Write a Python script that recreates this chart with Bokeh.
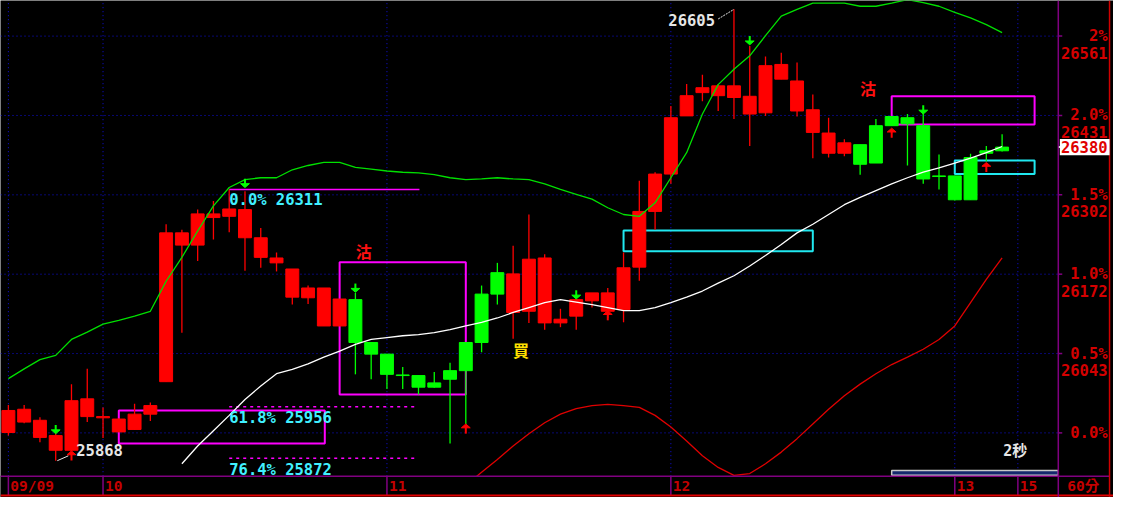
from bokeh.plotting import figure
from bokeh.models import Range1d
from bokeh.embed import file_html
from bokeh.resources import INLINE
from bokeh.core.properties import value

# ---------------- data ----------------
opens  = [25914, 25931, 25934, 25909, 25885, 25940, 25938, 25915, 25919, 25944,
          25997, 26240, 26220, 26265, 26267, 26278, 26232, 26199, 26181, 26134,
          26150, 26088, 26131, 26061, 26042, 26008, 26007, 25988, 26001, 26015,
          26061, 26140, 26173, 26112, 26199, 26093, 26104, 26129, 26142, 26115,
          26184, 26275, 26336, 26431, 26469, 26480, 26461, 26463, 26436, 26491,
          26488, 26441, 26403, 26370, 26384, 26354, 26415, 26428, 26415, 26333,
          26333, 26294, 26370, 26374]
highs  = [25959, 25959, 25939, 25913, 25993, 26018, 25955, 25937, 25961, 25963,
          26254, 26245, 26278, 26292, 26311, 26308, 26248, 26208, 26181, 26154,
          26150, 26132, 26142, 26061, 26042, 26021, 26007, 26013, 26028, 26061,
          26154, 26191, 26219, 26270, 26205, 26116, 26132, 26142, 26150, 26208,
          26325, 26339, 26447, 26483, 26498, 26483, 26605, 26545, 26528, 26534,
          26518, 26466, 26428, 26393, 26384, 26426, 26430, 26434, 26437, 26368,
          26333, 26369, 26382, 26401]
lows   = [25909, 25929, 25898, 25868, 25884, 25931, 25905, 25915, 25918, 25933,
          25997, 26077, 26194, 26229, 26241, 26178, 26183, 26177, 26123, 26124,
          26088, 26088, 26009, 26001, 25985, 25985, 25976, 25987, 25896, 25928,
          26045, 26123, 26067, 26093, 26082, 26086, 26082, 26118, 26101, 26094,
          26162, 26245, 26320, 26431, 26455, 26439, 26426, 26382, 26431, 26491,
          26430, 26362, 26363, 26365, 26335, 26354, 26415, 26350, 26320, 26311,
          26293, 26294, 26357, 26373]
closes = [25950, 25952, 25906, 25885, 25966, 25969, 25940, 25936, 25944, 25958,
          26240, 26220, 26271, 26271, 26279, 26232, 26200, 26191, 26135, 26150,
          26088, 26132, 26061, 26042, 26009, 26007, 25988, 25995, 26015, 26061,
          26140, 26175, 26110, 26197, 26093, 26099, 26131, 26142, 26112, 26183,
          26275, 26336, 26428, 26464, 26477, 26464, 26480, 26434, 26513, 26515,
          26439, 26404, 26370, 26387, 26352, 26415, 26430, 26418, 26328, 26332,
          26294, 26363, 26374, 26380]
# signal state per bar: B = buy (red bars), S = sell (green bars)
signal = "B" * 22 + "S" * 10 + "B" * 22 + "S" * 10

upper_band = [26002, 26018, 26033, 26040, 26066, 26078, 26091, 26097, 26104, 26112,
              26161, 26200, 26243, 26284, 26314, 26327, 26330, 26330, 26343, 26350,
              26355, 26355, 26347, 26344, 26341, 26339, 26338, 26335, 26330, 26327,
              26328, 26330, 26328, 26327, 26320, 26311, 26303, 26295, 26281, 26270,
              26267, 26289, 26330, 26371, 26434, 26482, 26507, 26529, 26562, 26594,
              26605, 26615, 26615, 26615, 26610, 26610, 26615, 26621, 26616, 26610,
              26600, 26591, 26580, 26567]
mid_start = 11
mid_band = [25863, 25892, 25917, 25942, 25968, 25990, 26010, 26017, 26026, 26037,
            26047, 26058, 26066, 26069, 26072, 26074, 26077, 26082, 26088, 26094,
            26101, 26110, 26118, 26126, 26131, 26127, 26123, 26118, 26113, 26113,
            26118, 26126, 26135, 26145, 26158, 26170, 26186, 26203, 26221, 26240,
            26254, 26270, 26286, 26298, 26309, 26320, 26330, 26339, 26346, 26354,
            26362, 26371, 26381]
low_start = 29
lower_band = [25828, 25849, 25870, 25892, 25912, 25930, 25944, 25953, 25958, 25960,
              25958, 25955, 25942, 25923, 25900, 25876, 25857, 25844, 25847, 25863,
              25882, 25904, 25928, 25952, 25974, 25993, 26010, 26025, 26037, 26050,
              26066, 26088, 26126, 26164, 26199]

down_arrow_idx = [3, 15, 22, 36, 47, 58]
down_arrow_tip = [25912, 26314, 26143, 26132, 26547, 26434]
up_arrow_idx = [4, 29, 38, 56, 62]
up_arrow_tip = [25884, 25928, 26113, 26411, 26355]

day_start_idx = [0, 6, 24, 42, 60, 64]
day_labels = ["09/09", "10", "11", "12", "13", "15"]

base_price = 25913.4
pct_levels = [0.0, 0.5, 1.0, 1.5, 2.0, 2.5]
pct_labels = ["0.0%", "0.5%", "1.0%", "1.5%", "2.0%", "2%"]
price_labels = ["", "26043", "26172", "26302", "26431", "26561"]
last_price = 26380

fib_labels = ["0.0% 26311", "61.8% 25956", "76.4% 25872"]
fib_values = [26311, 25956, 25872]
fib_start, fib_end = 14, [26.06, 25.75, 25.75]

high_idx, high_val = 46, 26605
low_idx, low_val = 3, 25868

# boxes: left idx, right idx, top price, bottom price
mag_left, mag_right = [21, 7, 56], [29, 20.06, 65.06]
mag_top, mag_bottom = [26192, 25950, 26463], [25976, 25896, 26417]
cyan_left, cyan_right = [39, 60], [51, 65.06]
cyan_top, cyan_bottom = [26244, 26358], [26210, 26336]

sell_marks_idx, sell_marks_price = [22.53, 54.5], [26210, 26476]
buy_marks_idx, buy_marks_price = [32.5], [26049]

# ---------------- layout helpers ----------------
PY = 1.582          # price per reference pixel
PX = 1 / 16         # bar index per reference pixel
X0, X1 = -0.5, 70.0625
Y0, Y1 = 25807.9, 26619.4
AXIS_X = (1073 - 8) * PX
EDGE_X = (1125 - 8) * PX
LABEL_RX = (1123 - 8) * PX
STRIP_TOP = base_price - (491 - 446.3) * PY
BOTTOM_LINE = base_price - (511 - 446.3) * PY
DATE_Y = base_price - (501.5 - 446.3) * PY

MONO = value("DejaVu Sans Mono, Noto Sans CJK TC")
CJK = value("Noto Sans CJK TC")

idx = list(range(len(closes)))
colors = ["#ff0000" if s == "B" else "#00ff00" for s in signal]

p = figure(width=1113, height=497, x_range=Range1d(X0, X1), y_range=Range1d(Y0, Y1),
           output_backend="svg", toolbar_location=None, x_axis_type=None, y_axis_type=None,
           min_border=0, background_fill_color="black", border_fill_color="black",
           outline_line_color=None)

# grid
grid_prices = [base_price * (1 + v / 100) for v in pct_levels]
p.segment(x0=X0, y0=grid_prices, x1=AXIS_X, y1=grid_prices,
          line_color="#1010e0", line_dash="1 3", line_width=1)
p.segment(x0=day_start_idx, y0=STRIP_TOP, x1=day_start_idx, y1=Y1,
          line_color="#1010e0", line_dash="1 3", line_width=1)

# boxes
p.quad(left=mag_left, right=mag_right, top=mag_top, bottom=mag_bottom,
       fill_alpha=0, line_color="#ff00ff", line_width=2)
p.quad(left=cyan_left, right=cyan_right, top=cyan_top, bottom=cyan_bottom,
       fill_alpha=0, line_color="#20e8f0", line_width=2)

# fibonacci lines
p.segment(x0=fib_start, y0=fib_values[0], x1=fib_end[0], y1=fib_values[0],
          line_color="#ff00ff", line_width=1.5)
p.segment(x0=fib_start, y0=fib_values[1:], x1=fib_end[1:], y1=fib_values[1:],
          line_color="#ff00ff", line_width=1.5, line_dash="3 4")

# candles
p.segment(x0=idx, y0=highs, x1=idx, y1=lows, line_color=colors, line_width=1.3)
p.vbar(x=idx, width=0.82,
       top=[max(o, c) for o, c in zip(opens, closes)],
       bottom=[min(o, c) for o, c in zip(opens, closes)],
       fill_color=colors, line_color=colors, line_width=1)

# bands
p.line(x=idx, y=upper_band, line_color="#00e000", line_width=1.3)
p.line(x=list(range(mid_start, mid_start + len(mid_band))), y=mid_band,
       line_color="#ffffff", line_width=1.3)
p.line(x=list(range(low_start, low_start + len(lower_band))), y=lower_band,
       line_color="#e00000", line_width=1.3)

# arrows
hw = 4.5 * PX
p.patches(xs=[[i - hw, i + hw, i] for i in down_arrow_idx],
          ys=[[t + 4 * PY, t + 4 * PY, t] for t in down_arrow_tip],
          fill_color="#00ff00", line_color="#00ff00")
p.segment(x0=down_arrow_idx, y0=[t + 3 * PY for t in down_arrow_tip],
          x1=down_arrow_idx, y1=[t + 9 * PY for t in down_arrow_tip],
          line_color="#00ff00", line_width=2)
p.patches(xs=[[i - hw, i + hw, i] for i in up_arrow_idx],
          ys=[[t - 4 * PY, t - 4 * PY, t] for t in up_arrow_tip],
          fill_color="#ff0000", line_color="#ff0000")
p.segment(x0=up_arrow_idx, y0=[t - 3 * PY for t in up_arrow_tip],
          x1=up_arrow_idx, y1=[t - 10 * PY for t in up_arrow_tip],
          line_color="#ff0000", line_width=2)

# fib labels
p.text(x=[fib_start] * 3,
       y=[fib_values[0] - 11 * PY, fib_values[1] - 11.5 * PY, fib_values[2] - 12 * PY],
       text=fib_labels, text_align="left", text_baseline="middle",
       text_font=MONO, text_font_style="bold", text_font_size="15.5px", text_color="#40f0ff")

# extreme labels
p.segment(x0=high_idx - 1.0, y0=high_val - 10 * PY, x1=high_idx, y1=high_val,
          line_color="#e6e6e6", line_width=1, line_dash="2 1")
p.text(x=[high_idx - 1.2], y=[high_val - 11 * PY], text=[str(high_val)],
       text_align="right", text_baseline="middle",
       text_font=MONO, text_font_style="bold", text_font_size="15.5px", text_color="#e6e6e6")
p.segment(x0=low_idx + 0.1, y0=low_val, x1=low_idx + 0.8, y1=low_val + 5 * PY,
          line_color="#e6e6e6", line_width=1)
p.text(x=[low_idx + 1.3], y=[low_val + 11 * PY], text=[str(low_val)],
       text_align="left", text_baseline="middle",
       text_font=MONO, text_font_style="bold", text_font_size="15.5px", text_color="#e6e6e6")

# signal marks
p.text(x=sell_marks_idx, y=sell_marks_price, text=["沽"] * len(sell_marks_idx),
       text_align="center", text_baseline="middle", text_font=CJK, text_font_style="bold",
       text_font_size="16px", text_color="#ff1010")
p.text(x=buy_marks_idx, y=buy_marks_price, text=["買"] * len(buy_marks_idx),
       text_align="center", text_baseline="middle", text_font=CJK, text_font_style="bold",
       text_font_size="16px", text_color="#ffe000")

# 2秒 and progress bar
p.text(x=[63.84], y=[base_price - 18.7 * PY], text=["2秒"], text_align="center",
       text_baseline="middle", text_font=MONO, text_font_style="bold",
       text_font_size="15px", text_color="#e6e6e6")
p.quad(left=[56], right=[AXIS_X], top=[base_price - 38.7 * PY], bottom=[base_price - 43.7 * PY],
       fill_color="#14286e", line_color="#c8c8c8", line_width=1.5)

# bottom strip
p.quad(left=[X0], right=[X1], top=[STRIP_TOP], bottom=[Y0], fill_color="black", line_color=None)
p.segment(x0=X0, y0=STRIP_TOP, x1=EDGE_X, y1=STRIP_TOP, line_color="#800080", line_width=1.5)
p.segment(x0=day_start_idx, y0=STRIP_TOP, x1=day_start_idx, y1=BOTTOM_LINE,
          line_color="#800080", line_width=1.5)
p.text(x=[d + 2 * PX for d in day_start_idx], y=[DATE_Y] * len(day_labels),
       text=day_labels, text_align="left", text_baseline="middle",
       text_font=MONO, text_font_style="bold", text_font_size="14.5px", text_color="#c40000")
p.text(x=[(1082 - 8) * PX], y=[DATE_Y], text=["60分"], text_align="left",
       text_baseline="middle", text_font=MONO, text_font_style="bold",
       text_font_size="14.5px", text_color="#c40000")
p.segment(x0=X0, y0=BOTTOM_LINE, x1=X1, y1=BOTTOM_LINE, line_color="#e00000", line_width=2)

# right axis panel
p.segment(x0=AXIS_X, y0=Y0, x1=AXIS_X, y1=Y1, line_color="#800080", line_width=1.5)
p.segment(x0=EDGE_X, y0=Y0, x1=EDGE_X, y1=Y1, line_color="#d00000", line_width=1.5)
p.segment(x0=AXIS_X, y0=grid_prices, x1=AXIS_X + 4 * PX, y1=grid_prices,
          line_color="#800080", line_width=1.5)
p.text(x=[LABEL_RX] * len(pct_labels), y=grid_prices, text=pct_labels,
       text_align="right", text_baseline="middle",
       text_font=MONO, text_font_style="bold", text_font_size="15.5px", text_color="#d40000")
p.text(x=[LABEL_RX] * len(price_labels), y=[g - 17 * PY for g in grid_prices], text=price_labels,
       text_align="right", text_baseline="middle",
       text_font=MONO, text_font_style="bold", text_font_size="15.5px", text_color="#d40000")

# last price tag
p.quad(left=[AXIS_X + 0.1], right=[EDGE_X], top=[last_price + 8.5 * PY],
       bottom=[last_price - 8.5 * PY], fill_color="#ffffff", line_color=None)
p.patches(xs=[[AXIS_X, AXIS_X + 0.35, AXIS_X + 0.35]],
          ys=[[last_price, last_price + 4 * PY, last_price - 4 * PY]],
          fill_color="#ffffff", line_color=None)
p.text(x=[LABEL_RX], y=[last_price], text=[str(last_price)], text_align="right",
       text_baseline="middle", text_font=MONO, text_font_style="bold",
       text_font_size="15.5px", text_color="#e00000")

open("out.html", "w").write(file_html(p, INLINE))
